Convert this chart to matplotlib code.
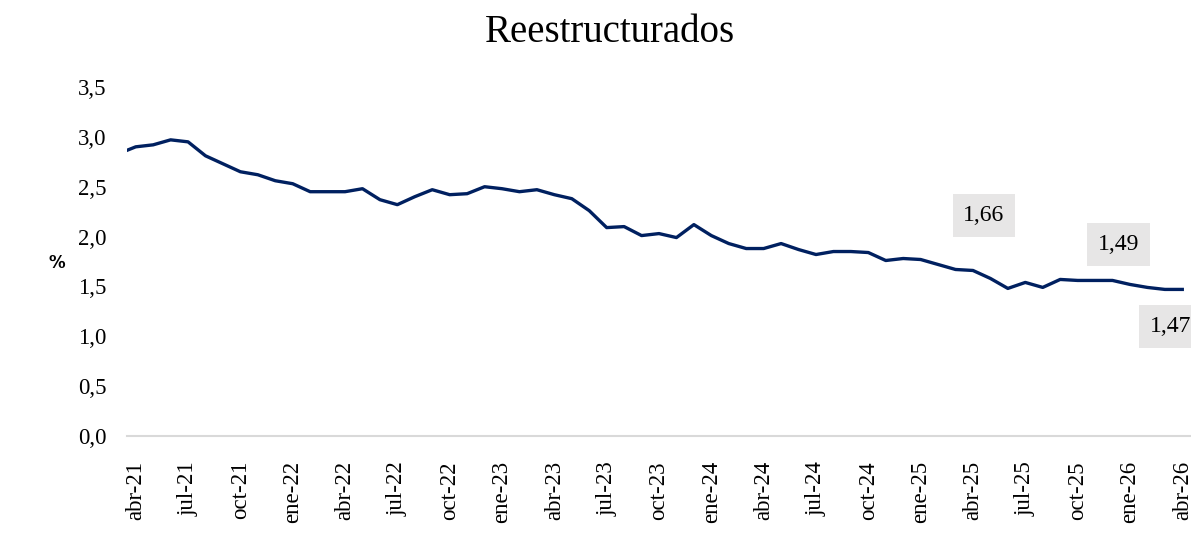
import matplotlib
matplotlib.use("Agg")
import matplotlib.pyplot as plt

# meses (mar-21 queda recortado por el borde izquierdo, como en el original)
mes_nombres = ['ene', 'feb', 'mar', 'abr', 'may', 'jun',
               'jul', 'ago', 'sep', 'oct', 'nov', 'dic']
meses = []
for anio in range(21, 27):
    for m in mes_nombres:
        meses.append(f"{m}-{anio}")
meses = meses[meses.index('mar-21'):meses.index('abr-26') + 1]

reestructurados = [
    2.83,
    2.90, 2.92, 2.97, 2.95, 2.81, 2.73, 2.65, 2.62, 2.56,
    2.53, 2.45, 2.45, 2.45, 2.48, 2.37, 2.32, 2.40, 2.47, 2.42, 2.43, 2.50,
    2.48, 2.45, 2.47, 2.42, 2.38, 2.26, 2.09, 2.10, 2.01, 2.03, 1.99, 2.12,
    2.01, 1.93, 1.88, 1.88, 1.93, 1.87, 1.82, 1.85, 1.85, 1.84, 1.76, 1.78,
    1.77, 1.72, 1.67, 1.66, 1.58, 1.48, 1.54, 1.49, 1.57, 1.56, 1.56, 1.56,
    1.52, 1.49, 1.47, 1.47,
]

etiquetas_mes = ['abr-25', 'feb-26', 'abr-26']
etiquetas_desp = [(11, 55), (-29, 43), (-12, -37)]  # pixeles

serif = ['Liberation Serif', 'DejaVu Serif']
azul = '#002060'

x = [i - 1 for i in range(len(meses))]  # abr-21 -> 0

fig = plt.figure(figsize=(11.91, 5.34), dpi=100)
ax = fig.add_axes([127 / 1191, 1 - 436 / 534, 1 - 127 / 1191, (436 - 87) / 534])

ax.plot(x, reestructurados, color=azul, linewidth=2.4, solid_joinstyle='round')

ax.set_xlim(-0.5, 60.5)
ax.set_ylim(0, 3.5)

ticks = list(range(0, 61, 3))
ax.set_xticks(ticks)
ax.set_xticklabels([meses[t + 1] for t in ticks], rotation=90, family=serif, fontsize=16.5)
yt = [i * 0.5 for i in range(8)]
ax.set_yticks(yt)
ax.set_yticklabels([f"{v:.1f}".replace('.', ',') for v in yt], family=serif, fontsize=16.5)
ax.tick_params(axis='x', length=0, pad=18)
ax.tick_params(axis='y', length=0, pad=15)

for s in ['top', 'right', 'left']:
    ax.spines[s].set_visible(False)
ax.spines['bottom'].set_color('#D9D9D9')
ax.spines['bottom'].set_linewidth(1.5)

for mes, (dx, dy) in zip(etiquetas_mes, etiquetas_desp):
    i = meses.index(mes)
    v = reestructurados[i]
    ax.annotate(f"{v:.2f}".replace('.', ','), xy=(x[i], v), xytext=(dx, dy),
                textcoords='offset pixels', ha='center', va='center',
                family=serif, fontsize=17, annotation_clip=False, clip_on=False,
                bbox=dict(boxstyle='square,pad=0.45', fc='#E7E6E6', ec='none'))

fig.text(57 / 1191, 1 - 263 / 534, '%', ha='center', va='center',
         family='DejaVu Sans', fontweight='bold', fontsize=12)
fig.text(609.5 / 1191, 1 - 42 / 534, 'Reestructurados', ha='center', va='baseline',
         family=serif, fontsize=28)

fig.savefig('out.png', dpi=100)
